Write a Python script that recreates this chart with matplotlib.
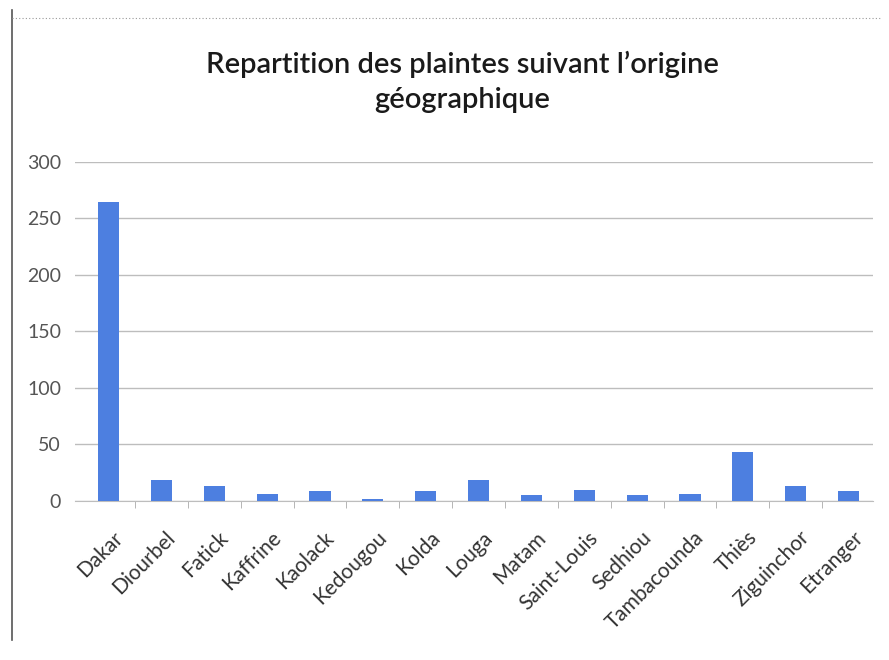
import matplotlib
matplotlib.use("Agg")
import matplotlib.pyplot as plt
import matplotlib.transforms as mtransforms
from matplotlib.lines import Line2D
import numpy as np

regions = ["Dakar", "Diourbel", "Fatick", "Kaffrine", "Kaolack", "Kedougou",
           "Kolda", "Louga", "Matam", "Saint-Louis", "Sedhiou", "Tambacounda",
           "Thiès", "Ziguinchor", "Etranger"]
plaintes = [264, 19, 13, 6, 9, 2, 9, 19, 5, 10, 5, 6, 43, 13, 9]
y_ticks = [0, 50, 100, 150, 200, 250, 300]

plt.rcParams["font.family"] = ["Lato", "DejaVu Sans"]

fig = plt.figure(figsize=(8.89, 6.6), dpi=100)
ax = fig.add_axes([0.0844, 0.2409, 0.8976, 0.514])

x = np.arange(len(regions))
ax.bar(x, plaintes, width=0.4, color="#4d7fe0", zorder=3)

ax.set_xlim(-0.634, len(regions) - 1 + 0.463)
ax.set_ylim(0, 300)
ax.set_yticks(y_ticks)
ax.set_yticklabels([str(v) for v in y_ticks], color="#555555", fontsize=14)
ax.set_xticks(x)
ax.set_xticklabels(regions, rotation=45, ha="right", rotation_mode="anchor",
                   color="#333333", fontsize=15)
ax.tick_params(axis="x", length=0, pad=19)
ax.tick_params(axis="y", length=0, pad=10)
shift = mtransforms.ScaledTranslation(4 / 100, 0, fig.dpi_scale_trans)
for lbl in ax.get_xticklabels():
    lbl.set_transform(lbl.get_transform() + shift)
ax.set_xticks(np.arange(0.5, len(regions) - 1), minor=True)
ax.tick_params(axis="x", which="minor", length=5, color="#aaaaaa", direction="out")

ax.yaxis.grid(True, color="#bdbdbd", linewidth=1)
for s in ["top", "right", "left"]:
    ax.spines[s].set_visible(False)
ax.spines["bottom"].set_color("#bdbdbd")

fig.text(0.52, 0.876, "Repartition des plaintes suivant l\u2019origine\ngéographique",
         ha="center", va="center", fontsize=21, color="#1a1a1a", linespacing=1.4,
         fontweight="semibold")

# chart frame (left edge and dotted top edge)
fig.add_artist(Line2D([0.013, 0.013], [0.03, 0.985], color="#555555", lw=1.2))
fig.add_artist(Line2D([0.013, 0.99], [0.973, 0.973], color="#999999", lw=0.8,
                      linestyle=(0, (1, 2))))

fig.savefig("out.png", dpi=100)
